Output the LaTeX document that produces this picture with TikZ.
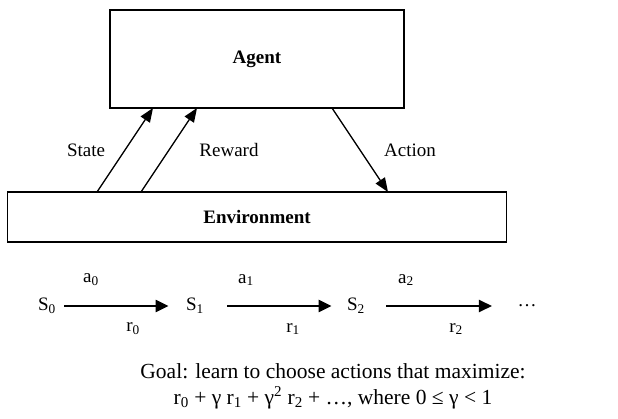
\documentclass[tikz,border=0pt]{standalone}
\usepackage{fontspec}
\setmainfont{Liberation Serif}
\usetikzlibrary{arrows.meta, positioning}

\begin{document}
\begin{tikzpicture}[
    x=1pt, y=-1pt,
    every node/.style={font=\fontsize{19}{23}\selectfont},
    box/.style={draw, line width=1.6pt, inner sep=0pt, font=\fontsize{19}{23}\selectfont\bfseries},
    loopline/.style={line width=1.3pt, -{Triangle[length=14pt, width=11pt]}},
    seqline/.style={line width=2.2pt, -{Triangle[length=13pt, width=12pt]}}
]
   \useasboundingbox (0,0) rectangle (618,419);

   % Boxes
   \node[box, minimum width=294pt, minimum height=98pt] (agent) at (257,59) {Agent};
   \node[box, minimum width=499pt, minimum height=50pt] (env) at (257,217) {Environment};

   % Loop arrows
   \coordinate (state0) at (97,192);
   \coordinate (state1) at (153,108);
   \coordinate (reward0) at (141,192);
   \coordinate (reward1) at (197,108);
   \coordinate (action0) at (332,108);
   \coordinate (action1) at (388,192);
   \draw[loopline] (state0) -- (state1);
   \draw[loopline] (reward0) -- (reward1);
   \draw[loopline] (action0) -- (action1);
   \node (statelbl) at (86,150) {State};
   \node (rewardlbl) at (229,150) {Reward};
   \node (actionlbl) at (410,150) {Action};

   % Sequence
   \node (s0) at (47,306) {S\textsubscript{0}};
   \node (s1) at (195,306) {S\textsubscript{1}};
   \node (s2) at (356,306) {S\textsubscript{2}};
   \node (dots) at (527,306) {\dots};
   \draw[seqline, shorten <=5pt, shorten >=14pt] (s0) -- (s1);
   \draw[seqline, shorten <=20pt, shorten >=12pt] (s1) -- (s2);
   \draw[seqline, shorten <=18pt, shorten >=22pt] (s2) -- (dots);
   \node (a0) at (91,280) {a\textsubscript{0}};
   \node (a1) at (246,280) {a\textsubscript{1}};
   \node (a2) at (406,280) {a\textsubscript{2}};
   \node (r0) at (133,329) {r\textsubscript{0}};
   \node (r1) at (293,329) {r\textsubscript{1}};
   \node (r2) at (456,329) {r\textsubscript{2}};

   % Goal
   \node[align=center, font=\fontsize{21.5}{26}\selectfont] (goal) at (333,386)
      {Goal: learn to choose actions that maximize:\\
       r\textsubscript{0} + γ r\textsubscript{1} + γ\textsuperscript{2} r\textsubscript{2} + \dots, where 0 ≤ γ < 1};
\end{tikzpicture}
\end{document}
